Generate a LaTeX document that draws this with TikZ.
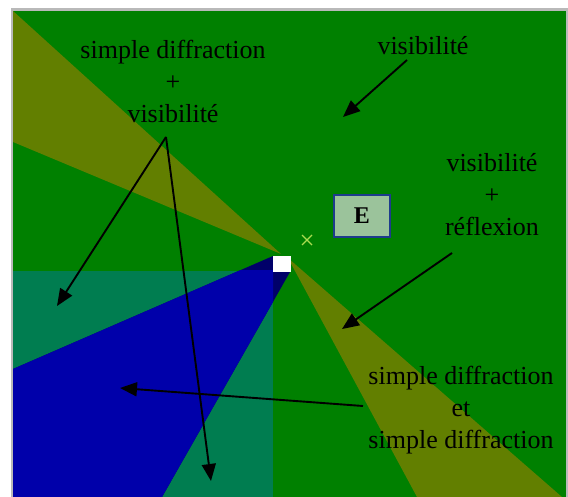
\documentclass[tikz,border=0pt]{standalone}
\usepackage{fontspec}
\setmainfont{Liberation Serif}
\usepackage{xcolor}
\usetikzlibrary{arrows.meta}
\definecolor{fieldgreen}{RGB}{0,128,0}
\definecolor{oliveband}{RGB}{98,127,0}
\definecolor{tealzone}{RGB}{0,125,80}
\definecolor{shadowblue}{RGB}{0,0,170}
\definecolor{shadownavy}{RGB}{0,0,105}
\definecolor{emitblue}{RGB}{30,60,140}
\definecolor{emitfill}{RGB}{155,195,155}
\definecolor{crossgreen}{RGB}{170,220,80}

\begin{document}
\begin{tikzpicture}[
  x=1pt, y=-1pt,
  zonelabel/.style={align=center, inner sep=0pt, font=\fontsize{26}{32}\selectfont},
  emitter/.style={rectangle, draw=emitblue, line width=1.5pt, fill=emitfill,
                  minimum width=56pt, minimum height=42pt, inner sep=0pt,
                  font=\bfseries\fontsize{24}{24}\selectfont},
  arrow/.style={-{Triangle[length=17pt,width=14pt]}, line width=1.9pt, black}
]
\useasboundingbox (0,0) rectangle (568,497);
\fill[fieldgreen] (13,11) rectangle (566,497);
\begin{scope}
  \clip (13,11) rectangle (566,497);
  \fill[oliveband] (281,254) -- (13,11) -- (13,142) -- cycle;
  \fill[oliveband] (288,258) -- (562,497) -- (417,497) -- cycle;
  \fill[tealzone] (13,271) rectangle (273,497);
  \fill[shadownavy] (273,256) -- (13,369) -- (13,497) -- (162,497) -- (290,272) -- (273,272) -- cycle;
  \clip (13,271) rectangle (273,497);
  \fill[shadowblue] (273,256) -- (13,369) -- (13,497) -- (162,497) -- (290,272) -- (273,272) -- cycle;
\end{scope}
\fill[white] (273,256) rectangle (291,272);
\draw[gray!55, line width=2.5pt] (11.75,500) -- (11.75,9.75) -- (566.75,9.75) -- (566.75,500);
\draw[crossgreen, line width=1.2pt] (302,235) -- (312,245) (302,245) -- (312,235);

\node (emit)    [emitter] at (362,216) {E};
\node (diffvis) [zonelabel] at (173,81)  {simple diffraction\\+\\visibilité};
\node (vis)     [zonelabel, anchor=base] at (423,55) {visibilité};
\node (visrefl) [zonelabel] at (492,195) {visibilité\\+\\réflexion};
\node (diffdiff)[zonelabel] at (461,410) {simple diffraction\\et\\simple diffraction};

\coordinate (fork)    at (166,137);
\coordinate (visfrom) at (407,60);
\coordinate (visto)   at (343,117);
\coordinate (leftto)  at (57,306);
\coordinate (downto)  at (211,481);
\coordinate (reflfrom) at (452,253);
\coordinate (reflto)  at (342,329);
\coordinate (ddfrom)  at (363,406);
\coordinate (ddto)    at (120,388);

\draw [arrow] (visfrom) -- (visto);
\draw [arrow] (fork) -- (leftto);
\draw [arrow] (fork) -- (downto);
\draw [arrow] (reflfrom) -- (reflto);
\draw [arrow] (ddfrom) -- (ddto);
\end{tikzpicture}
\end{document}
